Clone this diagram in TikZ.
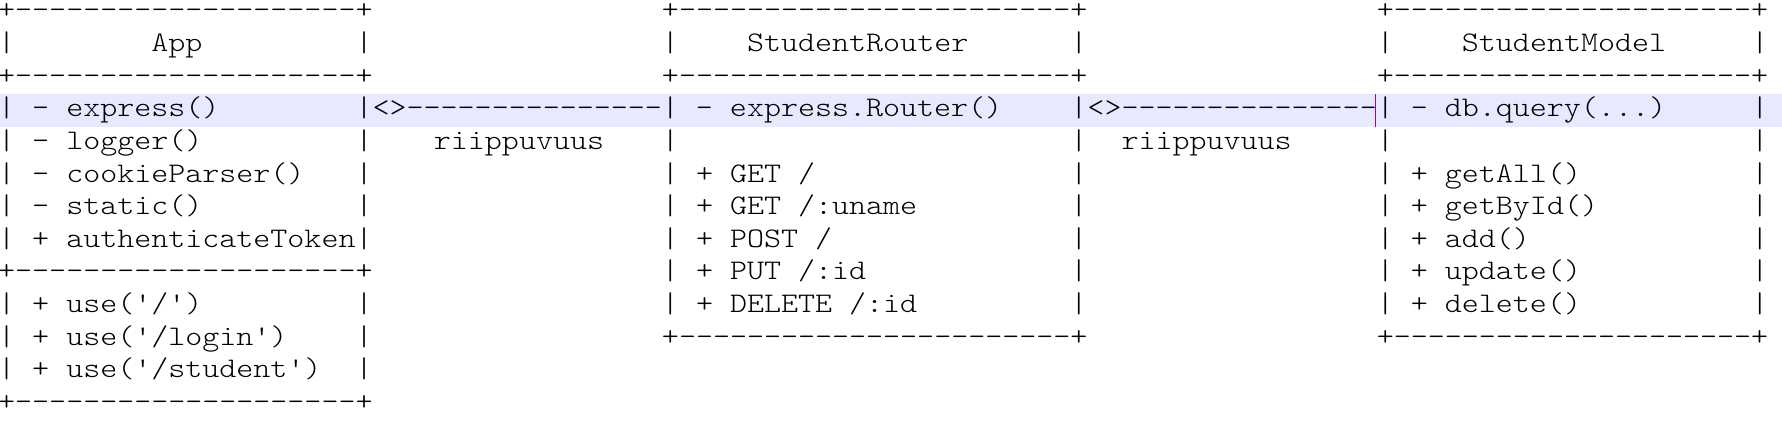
\documentclass[tikz,border=0pt]{standalone}
\usepackage{fontspec}
\setmonofont{lmmonolt10-regular.otf}[FakeStretch=1.1429]
\definecolor{bandcol}{RGB}{232,232,255}
\definecolor{caretcol}{RGB}{128,0,255}
\tikzset{
  asc/.style={anchor=base west, inner sep=0pt, outer sep=0pt,
    font=\ttfamily\fontsize{14.18pt}{16.33pt}\selectfont, text=black},
  bandfill/.style={fill=bandcol},
  caret/.style={draw=caretcol, line width=0.6pt}
}
\newcommand{\tok}[4]{\node[asc] (#1) at ({8.51*#3-0.9},{-9.35-16.33*#2}) {#4};}
\begin{document}
\begin{tikzpicture}[x=1pt,y=1pt]
\useasboundingbox (0,0) rectangle (891,-220.5);
% current-line highlight
\fill[bandfill] (0,-47) rectangle (891,-63.35);
\coordinate (caretTop) at (687.6,-47);
\coordinate (caretBot) at (687.6,-63.35);
% row 0
\tok{a0}{0}{0}{+--------------------+}
\tok{r0}{0}{39}{+-----------------------+}
\tok{m0}{0}{81}{+---------------------+}
% row 1
\tok{a1l}{1}{0}{|}
\tok{appT}{1}{9}{App}
\tok{a1r}{1}{21}{|}
\tok{r1l}{1}{39}{|}
\tok{routerT}{1}{44}{StudentRouter}
\tok{r1r}{1}{63}{|}
\tok{m1l}{1}{81}{|}
\tok{modelT}{1}{86}{StudentModel}
\tok{m1r}{1}{103}{|}
% row 2
\tok{a2}{2}{0}{+--------------------+}
\tok{r2}{2}{39}{+-----------------------+}
\tok{m2}{2}{81}{+---------------------+}
% row 3
\tok{a3}{3}{0}{| - express()}
\tok{r3}{3}{21}{|<>---------------| - express.Router()}
\tok{m3}{3}{63}{|<>---------------| - db.query(...)}
\tok{m3r}{3}{103}{|}
% row 4
\tok{a4}{4}{0}{| - logger()}
\tok{a4r}{4}{21}{|}
\tok{dep1}{4}{25.6}{riippuvuus}
\tok{r4l}{4}{39}{|}
\tok{r4r}{4}{63}{|}
\tok{dep2}{4}{66}{riippuvuus}
\tok{m4l}{4}{81}{|}
\tok{m4r}{4}{103}{|}
% row 5
\tok{a5}{5}{0}{| - cookieParser()}
\tok{a5r}{5}{21}{|}
\tok{r5}{5}{39}{| + GET /}
\tok{r5r}{5}{63}{|}
\tok{m5}{5}{81}{| + getAll()}
\tok{m5r}{5}{103}{|}
% row 6
\tok{a6}{6}{0}{| - static()}
\tok{a6r}{6}{21}{|}
\tok{r6}{6}{39}{| + GET /:uname}
\tok{r6r}{6}{63}{|}
\tok{m6}{6}{81}{| + getById()}
\tok{m6r}{6}{103}{|}
% row 7
\tok{a7}{7}{0}{| + authenticateToken|}
\tok{r7}{7}{39}{| + POST /}
\tok{r7r}{7}{63}{|}
\tok{m7}{7}{81}{| + add()}
\tok{m7r}{7}{103}{|}
% row 8
\tok{a8}{8}{0}{+--------------------+}
\tok{r8}{8}{39}{| + PUT /:id}
\tok{r8r}{8}{63}{|}
\tok{m8}{8}{81}{| + update()}
\tok{m8r}{8}{103}{|}
% row 9
\tok{a9}{9}{0}{| + use('/')}
\tok{a9r}{9}{21}{|}
\tok{r9}{9}{39}{| + DELETE /:id}
\tok{r9r}{9}{63}{|}
\tok{m9}{9}{81}{| + delete()}
\tok{m9r}{9}{103}{|}
% row 10
\tok{a10}{10}{0}{| + use('/login')}
\tok{a10r}{10}{21}{|}
\tok{r10}{10}{39}{+-----------------------+}
\tok{m10}{10}{81}{+---------------------+}
% row 11
\tok{a11}{11}{0}{| + use('/student')}
\tok{a11r}{11}{21}{|}
% row 12
\tok{a12}{12}{0}{+--------------------+}
% text caret
\draw[caret] (caretTop) -- (caretBot);
\end{tikzpicture}
\end{document}
